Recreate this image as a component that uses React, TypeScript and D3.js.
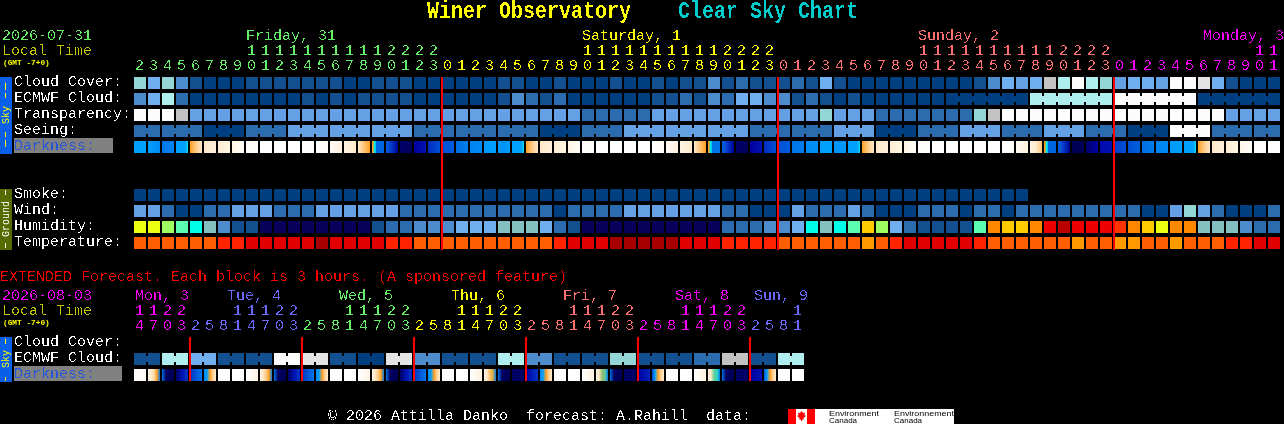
import React from "react";
import * as d3 from "d3";

// ---- shared labels ----
const DAY_LABELS = ["Friday, 31", "Saturday, 1", "Sunday, 2", "Monday, 3"];
const DAY_LABEL_X = [246, 582, 918, 1203];
const DAY_LABEL_COLORS = ["#66f066", "#ffff00", "#ff7070", "#ff00ff"];
const HOUR_UNITS = [2,3,4,5,6,7,8,9,0,1,2,3,4,5,6,7,8,9,0,1,2,3,0,1,2,3,4,5,6,7,8,9,0,1,2,3,4,5,6,7,8,9,0,1,2,3,0,1,2,3,4,5,6,7,8,9,0,1,2,3,4,5,6,7,8,9,0,1,2,3,0,1,2,3,4,5,6,7,8,9,0,1];
const HOUR_TENS = ["","","","","","","","",1,1,1,1,1,1,1,1,1,1,2,2,2,2,"","","","","","","","","","",1,1,1,1,1,1,1,1,1,1,2,2,2,2,"","","","","","","","","","",1,1,1,1,1,1,1,1,1,1,2,2,2,2,"","","","","","","","","","",1,1];
const HOUR_DAY = [...Array(22).fill(0), ...Array(24).fill(1), ...Array(24).fill(2), ...Array(12).fill(3)];
const MARKER_COLS = [22, 46, 70];

// ---- cloud-like rows: level 0..10 ----
const cloudCover = [6,5,6,3,1,0,0,0,1,1,1,1,1,1,1,0,0,1,1,1,0,0,0,0,0,0,1,1,0,0,1,0,0,0,1,0,0,1,0,1,1,3,1,2,1,1,1,2,1,5,1,0,0,0,0,0,0,0,0,0,1,3,5,4,5,8,7,10,7,6,4,5,5,4,10,10,9,5,1,0,0,0];
const ecmwfCloud = [3,5,7,2,0,0,0,0,0,0,0,0,1,0,1,0,1,1,1,1,0,0,0,0,0,0,1,3,2,1,2,0,0,0,0,0,0,1,1,2,1,3,2,5,5,3,3,1,2,1,0,1,0,0,0,0,0,0,0,0,0,0,0,0,7,7,7,7,7,7,10,10,10,10,10,10,0,0,0,0,0,0];
const transparency = [10,10,10,8,4,4,4,4,4,4,4,4,4,4,4,4,4,4,4,4,4,4,4,4,4,4,4,4,4,4,4,4,2,2,2,2,2,4,4,4,4,4,4,4,4,4,4,4,4,6,4,4,4,2,2,2,2,2,2,2,6,8,10,10,10,10,10,10,10,10,10,10,10,10,10,10,10,10,4,4,4,4];
const seeing = [2,2,2,2,2,0,0,0,2,2,2,4,4,4,4,4,4,4,4,4,2,2,2,2,2,2,2,2,2,0,0,0,2,2,2,4,4,4,4,4,4,4,4,4,2,2,2,2,2,2,4,4,4,0,0,0,2,2,2,4,4,4,2,2,2,4,4,4,2,2,2,0,0,0,10,10,10,2,2,2,2,2];
const smoke = [0,0,0,0,0,0,0,0,0,0,0,0,0,0,0,0,0,0,0,0,0,0,0,0,0,0,0,0,0,0,0,0,0,0,0,0,0,0,0,0,0,0,0,0,0,0,0,0,0,0,0,0,0,0,0,0,0,0,0,0,0,0,0,0];
const wind = [4,4,2,0,0,2,2,4,4,4,2,2,2,4,4,4,4,4,4,2,2,2,2,2,2,2,2,2,2,2,0,2,2,2,2,4,4,4,4,4,4,4,2,2,0,0,0,4,2,2,2,4,2,0,0,0,2,2,2,0,2,2,0,2,2,2,2,2,2,2,2,2,0,0,4,6,4,2,0,0,0,2];
const extEcmwf = [1,1,7,7,5,5,1,1,1,1,10,10,9,9,1,1,0,0,9,9,3,3,1,1,1,1,7,7,3,3,1,1,1,1,6,6,1,1,1,1,2,2,8,8,1,1,7,7];

// joined runs: first column of each connected group
const seeingGroupStarts = [0,2,5,8,11,14,17,20,23,26,29,32,35,38,41,44,47,50,53,56,59,62,65,68,71,74,77,80];
const ecmwfGroupStarts = [58,64,70,76];
const extEcmwfGroupSize = 2;

// ---- humidity / temperature classes ----
const humidity = ["y","y","l","m","c","t","3","1","1","n","n","n","n","n","n","n","n","1","2","2","3","3","3","5","5","5","t","t","t","5","2","1","n","n","n","n","n","n","n","n","n","n","2","2","2","3","3","5","c","t","c","m","g","l","5","2","1","1","1","1","m","o","g","g","o","r","d","r","r","r","R","o","g","y","o","o","t","t","t","3","2","2"];
const temperature = ["o","o","o","o","o","o","R","R","r","r","r","r","r","d","r","r","r","r","R","R","o","o","o","o","o","o","o","o","o","o","R","r","r","r","d","d","d","d","d","r","r","r","R","R","R","R","o","o","o","o","o","o","a","o","R","r","r","r","r","r","R","o","o","o","o","o","o","a","o","o","a","a","o","o","a","o","o","o","R","R","r","r"];

// ---- darkness: evenly spaced brightness stops inside each cell ----
const SUNUP = [3,3,3,3,3,3,3,3,3,3,3.6,4];
const darkness: number[][] = [
  [3,3],[3,2.7],[2.4,2.6],SUNUP,[5,5.6,6],[6,6.3],[6.2,6.5],[6.5,6.9],[6.9,7],[7,7],[7,7],[7,7],[7,7],[7,6.9],[6.8,6.4],[6.5,6.1],[6.1,5.5,5],
  [5,5,4,4,2.2,2.2,2.2,2.2,2.2,2.2,2.2,2.2],[2.1,1.6,0.8],[0.3,0.1],[0.9,1.2],[1.5,1.9],
  [1.9,2.1],[2.3,2.5],[2.6,2.7],[2.9,3],[2.9,2.8,3],SUNUP,[5,5.6,6],[6,6.3],[6.2,6.5],[6.5,6.9],[6.9,7],[7,7],[7,7],[7,7],[7,7],[7,6.9],[6.8,6.4],[6.5,6.1],[6.1,5.5,5],
  [5,5,4,4,2.4,2.4,2.4,2.4,2.4,2.4,2.4,2.4],[2.2,1.6,0.8],[0.3,0.1],[0.9,1.2],[1.5,1.9],
  [1.9,2.1],[2.4,2.5],[2.7,2.8],[3,3],[2.8,2.9],SUNUP,[5,5.6,6],[6,6.3],[6.2,6.5],[6.5,6.9],[6.9,7],[7,7],[7,7],[7,7],[7,7],[7,7],[7,6.9],[6.8,6.4],[6.5,6.1,5.5],
  [5,5,4,4,2.2,2.2,2.2,2.2,2.2,2.2,2.2,2.2],[2.2,1.6,0.7],[0.1,0.1],[0.3,1],[1.1,1.2],[1.7,1.9],[1.9,2.1],[2.3,2.5],[2.6,2.7],[2.9,3],SUNUP,[5,5.6,6],[6,6.3],[6.2,6.5],[6.6,6.9],[7,7],[7,7],
];
const extDarkness: number[][] = [
  [7,6.8],[6.6,6.2,5.8,5,2.5],[2.4,0.2,0.1,0.1],[0.2,1.2,1.6],[1.6,2.4],[2.7,3,5,5.7,6.2],[7,7],[7,7],
  [7,6.5],[6.5,6,5.6,5,2.5],[2.4,0.2,0.1,0.1],[0.2,1.2,1.6],[1.6,2.4],[2.7,3,5,5.7,6.2],[7,7],[7,7],
  [7,6.5],[6.5,6,5.6,5,2.5],[2.4,0.2,0.1,0.1],[0.2,1.2,1.6],[1.6,2.4],[2.7,3,5,5.7,6.2],[7,7],[7,7],
  [7,6.4],[6.5,6,5.4,4.8,2.5],[2.4,0.2,0.1,0.1],[0.2,0.3],[1,1.6],[2.7,3,5,5.7,6.2],[7,7],[7,7],
  [7,6.4],[6.5,6,4.6,4.4,2.5],[2.4,0.2,0.1,0.1],[0.2,0.3],[0.9,1.4],[1.8,3,5,5.7,6.2],[7,7],[7,7],
  [7,6.4],[6.5,6,4.4,4.2,2.5],[2.4,0.2,0.1,0.1],[0.2,0.3],[0.9,1.2],[2,3,5,5.7,6.2],[7,7],[7,7],
];

// ---- extended labels ----
const EXT_DAY_LABELS = ["Mon, 3","Tue, 4","Wed, 5","Thu, 6","Fri, 7","Sat, 8","Sun, 9"];
const EXT_DAY_X = [135,227,339,451,563,675,754];
const EXT_DAY_COLORS = ["#ff00ff","#6a6aff","#66f066","#ffff00","#ff7070","#ff00ff","#6a6aff"];
const EXT_UNITS = [4,7,0,3,2,5,8,1,4,7,0,3,2,5,8,1,4,7,0,3,2,5,8,1,4,7,0,3,2,5,8,1,4,7,0,3,2,5,8,1,4,7,0,3,2,5,8,1];
const EXT_TENS = [1,1,2,2,"","","",1,1,1,2,2,"","","",1,1,1,2,2,"","","",1,1,1,2,2,"","","",1,1,1,2,2,"","","",1,1,1,2,2,"","","",1];
const EXT_HOUR_DAY = [0,0,0,0,...Array(8).fill(1),...Array(8).fill(2),...Array(8).fill(3),...Array(8).fill(4),...Array(8).fill(5),...Array(4).fill(6)];
const EXT_MARKER_COLS = [4,12,20,28,36,44];

const SKY_LABELS = ["Cloud Cover:","ECMWF Cloud:","Transparency:","Seeing:"];
const GROUND_LABELS = ["Smoke:","Wind:","Humidity:","Temperature:"];

// ---- scales ----
const x = d3.scaleLinear().domain([0, 1]).range([134, 148]);
const CELL = 12;
const cloudColor = d3.scaleOrdinal<number, string>()
  .domain([0,1,2,3,4,5,6,7,8,9,10])
  .range(["#003f7f","#13508f","#2b6cae","#4c8ccc","#63a1e4","#70afef","#94d6d6","#aeeeee","#c2c2c2","#e4e4e4","#fcfcfc"]);
const humColor = d3.scaleOrdinal<string, string>()
  .domain(["n","1","2","3","5","t","c","m","l","y","g","o","R","r","d"])
  .range(["#08005a","#13508f","#2b6cae","#4c8ccc","#70afef","#85c0c0","#00ffe8","#5cffb0","#a0ff60","#ecff10","#ffcc00","#ff8800","#ff3300","#ee0000","#bb0000"]);
const tempColor = d3.scaleOrdinal<string, string>()
  .domain(["a","o","R","r","d"])
  .range(["#ff9900","#ff5f00","#ff2200","#e00000","#a80000"]);
const darkColor = d3.scaleLinear<string>()
  .domain([0,1,2,3,4,5,6,7])
  .range(["#000050","#0000a8","#0058d8","#00a0ff","#00e8e8","#ffa020","#ffe8c8","#ffffff"]);

const MONO = "'Liberation Mono', monospace";

const Label = (p: { x: number; y: number; fill?: string; size?: number; bold?: boolean; children: any }) => (
  <text x={p.x} y={p.y} fill={p.fill ?? "#fff"} fontSize={p.size ?? 15} fontWeight={p.bold ? 700 : 400} fontFamily={MONO} style={{ whiteSpace: "pre" }}>{p.children}</text>
);

const Cells = ({ values, color, y }: { values: any[]; color: (v: any) => string; y: number }) => (
  <g>{values.map((v, i) => <rect key={i} x={x(i)} y={y} width={CELL} height={CELL} fill={color(v)} />)}</g>
);

// connectors between neighbouring cells of a joined group
const Joins = ({ values, starts, color, y }: { values: number[]; starts: number[]; color: (v: number) => string; y: number }) => (
  <g>
    {values.slice(0, -1).map((v, i) => {
      const start = d3.bisectRight(starts, i) > 0;
      if (!start || starts.includes(i + 1)) return null;
      return <rect key={i} x={x(i) + CELL} y={y + 3} width={2} height={6} fill={color(v)} />;
    })}
  </g>
);

const GradCells = ({ id, stops, y }: { id: string; stops: number[][]; y: number }) => (
  <g>
    <defs>
      {stops.map((s, i) => (
        <linearGradient key={i} id={`${id}${i}`} x1="0" x2="1" y1="0" y2="0">
          {s.map((v, k) => <stop key={k} offset={k / (s.length - 1)} stopColor={darkColor(v)} />)}
        </linearGradient>
      ))}
    </defs>
    {stops.map((_, i) => <rect key={i} x={x(i)} y={y} width={CELL} height={CELL} fill={`url(#${id}${i})`} />)}
  </g>
);

const SideText = ({ t, cx, cy, fill }: { t: string; cx: number; cy: number; fill: string }) => (
  <text transform={`translate(${cx},${cy}) rotate(-90)`} fill={fill} fontSize={10} fontFamily={MONO} textAnchor="middle">{t}</text>
);

const Markers = ({ cols, y0, y1 }: { cols: number[]; y0: number; y1: number }) => (
  <g>{cols.map(c => <rect key={c} x={x(c) - 1} y={y0} width={2} height={y1 - y0} fill="#ff0000" />)}</g>
);

export default function App() {
  return (
    <svg width={1284} height={424} style={{ position: "fixed", left: 0, top: 0, background: "#000", display: "block" }}>
      <defs>
        <filter id="crisp" x="0" y="0" width="1284" height="424" colorInterpolationFilters="sRGB" filterUnits="userSpaceOnUse">
          <feComponentTransfer><feFuncA type="discrete" tableValues="0 0 0 1 1" /></feComponentTransfer>
        </filter>
      </defs>
      <rect width={1284} height={424} fill="#000" />

      {/* sidebars */}
      <rect x={0} y={77} width={12} height={77} fill="#0a5fe8" />
      <rect x={0} y={189} width={12} height={61} fill="#556b00" />
      <rect x={0} y={337} width={12} height={45} fill="#0a5fe8" />
      <rect x={14} y={138} width={99} height={15} fill="#808080" />
      <rect x={14} y={366} width={108} height={15} fill="#808080" />

      {/* main rows */}
      <Cells values={cloudCover} color={cloudColor} y={77} />
      <Cells values={ecmwfCloud} color={cloudColor} y={93} />
      <Joins values={ecmwfCloud} starts={ecmwfGroupStarts} color={cloudColor} y={93} />
      <Cells values={transparency} color={cloudColor} y={109} />
      <Cells values={seeing} color={cloudColor} y={125} />
      <Joins values={seeing} starts={seeingGroupStarts} color={cloudColor} y={125} />
      <GradCells id="dk" stops={darkness} y={141} />
      <Cells values={smoke} color={cloudColor} y={189} />
      <Cells values={wind} color={cloudColor} y={205} />
      <Cells values={humidity} color={humColor} y={221} />
      <Cells values={temperature} color={tempColor} y={237} />
      <Markers cols={MARKER_COLS} y0={77} y1={250} />

      {/* extended rows */}
      <Cells values={extEcmwf} color={cloudColor} y={353} />
      <g>
        {extEcmwf.map((v, i) => i % extEcmwfGroupSize === 0
          ? <rect key={i} x={x(i) + CELL} y={356} width={2} height={6} fill={cloudColor(v)} /> : null)}
      </g>
      <GradCells id="xd" stops={extDarkness} y={369} />
      <Markers cols={EXT_MARKER_COLS} y0={337} y1={381} />

      {/* crisp text */}
      <g filter="url(#crisp)">
        <g transform="translate(0,18) scale(1,1.15)">
          <Label x={427} y={0} fill="#ffff00" size={20} bold>Winer Observatory</Label>
          <Label x={678} y={0} fill="#00cccc" size={20} bold>Clear Sky Chart</Label>
        </g>

        <Label x={2} y={40} fill="#66f066">2026-07-31</Label>
        <Label x={2} y={55} fill="#c8c800">Local Time</Label>
        {DAY_LABELS.map((d, i) => <Label key={d} x={DAY_LABEL_X[i]} y={40} fill={DAY_LABEL_COLORS[i]}>{d}</Label>)}
        {HOUR_TENS.map((d, i) => <Label key={i} x={x(i) + 1} y={55} fill={DAY_LABEL_COLORS[HOUR_DAY[i]]}>{d}</Label>)}
        {HOUR_UNITS.map((d, i) => <Label key={i} x={x(i) + 1} y={70} fill={DAY_LABEL_COLORS[HOUR_DAY[i]]}>{d}</Label>)}

        {SKY_LABELS.map((l, i) => <Label key={l} x={14} y={86 + 16 * i}>{l}</Label>)}
        <Label x={14} y={150} fill="#2255dd">Darkness:</Label>
        {GROUND_LABELS.map((l, i) => <Label key={l} x={14} y={198 + 16 * i}>{l}</Label>)}

        <Label x={0} y={281} fill="#ff0000">EXTENDED Forecast. Each block is 3 hours. (A sponsored feature)</Label>
        <Label x={2} y={300} fill="#ff00ff">2026-08-03</Label>
        <Label x={2} y={315} fill="#c8c800">Local Time</Label>
        {EXT_DAY_LABELS.map((d, i) => <Label key={d} x={EXT_DAY_X[i]} y={300} fill={EXT_DAY_COLORS[i]}>{d}</Label>)}
        {EXT_TENS.map((d, i) => <Label key={i} x={x(i) + 1} y={315} fill={EXT_DAY_COLORS[EXT_HOUR_DAY[i]]}>{d}</Label>)}
        {EXT_UNITS.map((d, i) => <Label key={i} x={x(i) + 1} y={330} fill={EXT_DAY_COLORS[EXT_HOUR_DAY[i]]}>{d}</Label>)}
        <Label x={14} y={346}>Cloud Cover:</Label>
        <Label x={14} y={362}>ECMWF Cloud:</Label>
        <Label x={14} y={378} fill="#2255dd">Darkness:</Label>

        <Label x={328} y={420}>© 2026 Attilla Danko  forecast: A.Rahill  data:</Label>
      </g>

      {/* small text stays smooth so it remains legible */}
      <Label x={3} y={65} fill="#ffff00" size={7.8} bold>(GMT -7+0)</Label>
      <Label x={3} y={325} fill="#ffff00" size={7.8} bold>(GMT -7+0)</Label>
      <SideText t="Sky" cx={9} cy={115} fill="#ffff00" />
      <SideText t="Sky" cx={9} cy={359} fill="#ffff00" />
      <SideText t="Ground" cx={9} cy={219} fill="#ffffff" />

      {/* sidebar dashes */}
      {[[83,90],[93,98],[132,137],[140,147],[339,344],[377,381]].map(([a, b]) => (
        <rect key={a} x={5} y={a} width={1} height={b - a} fill="#ffff00" />
      ))}
      {[[190,195],[243,248]].map(([a, b]) => <rect key={a} x={5} y={a} width={1} height={b - a} fill="#ffffff" />)}

      {/* Environment Canada logo */}
      <rect x={788} y={409} width={166} height={15} fill="#fff" />
      <rect x={788} y={409} width={8} height={15} fill="#ff0000" />
      <rect x={807} y={409} width={8} height={15} fill="#ff0000" />
      <path d="M801.5 411 L803 413 L805 412.5 L804.5 415 L806 416 L803.5 418 L803.5 420 L802 419.5 L802 421 L801 421 L801 419.5 L799.5 420 L799.5 418 L797 416 L798.5 415 L798 412.5 L800 413 Z" fill="#ff0000" />
      <g fontFamily="'Liberation Sans', sans-serif" fontSize={8} fill="#000">
        <text x={829} y={416} textLength={50} lengthAdjust="spacingAndGlyphs">Environment</text>
        <text x={829} y={423}>Canada</text>
        <text x={894} y={416} textLength={60} lengthAdjust="spacingAndGlyphs">Environnement</text>
        <text x={894} y={423}>Canada</text>
      </g>
    </svg>
  );
}
